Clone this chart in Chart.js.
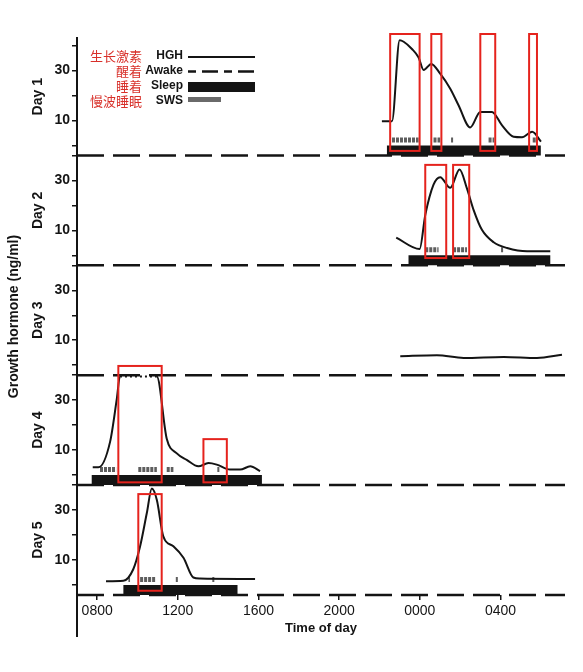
<!DOCTYPE html>
<html>
<head>
  <meta charset="UTF-8">
  <title>Growth hormone - time of day</title>
  <script src="https://cdn.jsdelivr.net/npm/chart.js"></script>
  <style>
    body { margin: 0; background: #fff; }
    #wrap { width: 583px; height: 672px; }
  </style>
</head>
<body>
  <div id="wrap"><canvas id="hghChart"></canvas></div>

  <script>
    // time = hours since midnight of the first day (24 = 0000 next day)
    const dayLabels = ['Day 1', 'Day 2', 'Day 3', 'Day 4', 'Day 5'];
    const timeTicks = [8, 12, 16, 20, 24, 28];
    const legendCn = ['生长激素', '醒着', '睡着', '慢波睡眠'];
    const legendEn = ['HGH', 'Awake', 'Sleep', 'SWS'];

    const day1Time = [22.12, 22.62, 23.00, 23.20, 23.61, 23.94, 24.19, 24.57, 25.01, 25.51, 25.92, 26.50, 27.00, 27.58, 28.07, 28.65, 29.07, 29.57, 30.01];
    const day1Hgh  = [9.7, 9.7, 42.1, 41.5, 38.6, 35.2, 30.2, 32.6, 28.7, 22.7, 16.1, 7.2, 13.4, 13.4, 8.1, 3.5, 3.3, 5.5, 1.5];
    const day2Time = [22.83, 23.99, 24.27, 24.68, 25.01, 25.51, 25.97, 26.34, 26.67, 27.08, 27.66, 28.33, 29.32, 30.47];
    const day2Hgh  = [7.1, 2.5, 16.1, 28.3, 31.3, 27.0, 34.4, 26.7, 18.1, 10.2, 5.2, 2.9, 1.6, 1.6];
    const day3Time = [23.03, 24.85, 26.17, 28.16, 29.81, 31.05];
    const day3Hgh  = [3.6, 4.0, 2.9, 3.3, 2.9, 4.2];
    const day4Time = [7.78, 8.06, 8.64, 8.97, 9.13, 10.96, 11.45, 11.95, 12.44, 13.02, 13.52, 13.93, 14.59, 15.09, 15.59, 16.08];
    const day4Hgh  = [3.1, 3.1, 13.3, 30.3, 39.5, 39.5, 14.6, 8.7, 6.1, 3.5, 4.8, 4.2, 2.2, 2.2, 3.5, 1.6];
    const day5Time = [8.44, 9.30, 9.79, 10.13, 10.46, 10.71, 10.96, 11.28, 11.78, 12.28, 12.77, 13.10, 15.83];
    const day5Hgh  = [1.5, 1.7, 6.3, 15.5, 28.7, 38.6, 34.0, 19.5, 15.5, 10.9, 3.0, 2.6, 2.4];

    // [start, end] in hours
    const sleepDay1 = [[22.37, 30.00]];
    const sleepDay2 = [[23.44, 30.47]];
    const sleepDay3 = [];
    const sleepDay4 = [[7.73, 16.17]];
    const sleepDay5 = [[9.30, 14.96]];

    const swsDay1 = [[22.62, 23.94], [24.68, 25.01], [25.55, 25.65], [27.41, 27.69], [29.60, 29.76]];
    const swsDay2 = [[24.27, 24.93], [25.65, 26.34], [28.03, 28.13]];
    const swsDay3 = [];
    const swsDay4 = [[8.14, 8.94], [10.04, 10.96], [11.45, 11.78], [13.96, 14.06]];
    const swsDay5 = [[9.55, 9.63], [10.13, 10.92], [11.90, 12.00], [13.71, 13.81]];

    // red highlight boxes: [start, end, top ng/ml, bottom ng/ml]
    const boxDay1 = [[22.53, 23.99, 44.6, -2.2], [24.57, 25.07, 44.6, -2.2], [27.00, 27.74, 44.6, -2.2], [29.42, 29.81, 44.6, -2.2]];
    const boxDay2 = [[24.27, 25.31, 36.2, -1.1], [25.65, 26.45, 36.2, -1.1]];
    const boxDay3 = [];
    const boxDay4 = [[9.05, 11.20, 43.7, -2.9], [13.27, 14.43, 14.4, -2.9]];
    const boxDay5 = [[10.04, 11.20, 36.4, -2.3]];

    const recordStart = 7, recordEnd = 31.2;
    const AWAKE_Y = -4, SLEEP_Y = -2, SWS_Y = 2.2;   // where the state bars sit in each panel
    const assayCeiling = 39.5;                       // day 4 values off the scale (dotted)

    const times = [day1Time, day2Time, day3Time, day4Time, day5Time];
    const hghs = [day1Hgh, day2Hgh, day3Hgh, day4Hgh, day5Hgh];
    const sleeps = [sleepDay1, sleepDay2, sleepDay3, sleepDay4, sleepDay5];
    const swss = [swsDay1, swsDay2, swsDay3, swsDay4, swsDay5];
    const boxes = [boxDay1, boxDay2, boxDay3, boxDay4, boxDay5];

    const INK = '#141414';
    const SANS = '"Liberation Sans", Arial, sans-serif';

    function spans(list, y) {
      const pts = [];
      list.forEach(([a, b]) => pts.push({x: a, y: y}, {x: b, y: y}, {x: b, y: null}));
      return pts;
    }

    const datasets = [];
    dayLabels.forEach((label, i) => {
      const axis = 'y' + (i + 1);
      datasets.push({
        label: 'Awake', yAxisID: axis, order: 4, clip: false,
        data: [{x: recordStart, y: AWAKE_Y}, {x: recordEnd, y: AWAKE_Y}],
        borderColor: INK, borderWidth: 2.5, borderDash: [27, 9], pointRadius: 0
      });
      datasets.push({
        label: 'Sleep', yAxisID: axis, order: 3, clip: false,
        data: spans(sleeps[i], SLEEP_Y), spanGaps: false,
        borderColor: INK, borderWidth: 10, borderCapStyle: 'butt', pointRadius: 0
      });
      datasets.push({
        label: 'SWS', yAxisID: axis, order: 2, clip: false,
        data: spans(swss[i], SWS_Y), spanGaps: false,
        borderColor: '#5e5e5e', borderWidth: 5, borderDash: [3, 1], borderCapStyle: 'butt', pointRadius: 0
      });
      const hgh = {
        label: 'HGH', yAxisID: axis, order: 1, clip: false,
        data: times[i].map((t, k) => ({x: t, y: hghs[i][k]})),
        borderColor: INK, borderWidth: 2, pointRadius: 0,
        cubicInterpolationMode: 'monotone'
      };
      if (i === 3) {
        hgh.segment = {
          borderDash: ctx => (ctx.p0.parsed.y >= assayCeiling && ctx.p1.parsed.y >= assayCeiling) ? [2, 3] : undefined
        };
      }
      datasets.push(hgh);
    });

    const scales = {
      x: {
        type: 'linear', position: 'bottom', min: recordStart, max: recordEnd,
        afterBuildTicks: axis => { axis.ticks = timeTicks.map(v => ({value: v})); },
        afterFit: axis => { axis.height = 45; },
        ticks: {
          callback: v => String((v % 24) * 100).padStart(4, '0'),
          font: {family: SANS, size: 14}, color: INK, padding: 3, maxRotation: 0, autoSkip: false
        },
        grid: {drawOnChartArea: false, tickLength: 5, color: INK, lineWidth: 1.5},
        border: {display: false},
        title: {display: true, text: 'Time of day', color: INK,
                font: {family: SANS, size: 13, weight: 'bold'}, padding: {top: 2, bottom: 4}}
      },
      yTitle: {
        type: 'linear', position: 'left', weight: 10,
        afterFit: axis => { axis.width = 27; },
        grid: {display: false}, ticks: {display: false}, border: {display: false},
        title: {display: true, text: 'Growth hormone (ng/ml)', color: INK,
                font: {family: SANS, size: 14, weight: 'bold'}, padding: {top: 6}}
      }
    };
    dayLabels.forEach((label, i) => {
      scales['y' + (i + 1)] = {
        type: 'linear', position: 'left', stack: 'days',
        stackWeight: i === 0 ? 117.5 : 110, weight: 5 - i,
        min: -4, max: i === 0 ? 43 : 40,
        afterBuildTicks: axis => { axis.ticks = [0, 10, 20, 30, 40].map(v => ({value: v})); },
        afterFit: axis => { axis.width = 50; },
        ticks: {
          callback: v => (v === 10 || v === 30) ? String(v) : '',
          autoSkip: false,
          font: {family: SANS, size: 14, weight: 'bold'}, color: INK, padding: 2
        },
        grid: {drawOnChartArea: false, tickLength: 5, color: INK, lineWidth: 1.5},
        border: {display: true, color: INK, width: 2},
        title: {display: true, text: label, color: INK,
                font: {family: SANS, size: 14, weight: 'bold'}, padding: {top: 3}}
      };
    });

    const overlay = {
      id: 'overlay',
      afterDraw(chart) {
        const ctx = chart.ctx;
        const xs = chart.scales.x;
        const L = chart.chartArea.left, T = chart.chartArea.top;
        ctx.save();

        // red highlight rectangles
        ctx.strokeStyle = '#e5231d';
        ctx.lineWidth = 2;
        boxes.forEach((list, i) => {
          const ys = chart.scales['y' + (i + 1)];
          list.forEach(([a, b, top, bottom]) => {
            const x1 = xs.getPixelForValue(a), x2 = xs.getPixelForValue(b);
            const y1 = ys.getPixelForValue(top), y2 = ys.getPixelForValue(bottom);
            ctx.strokeRect(x1, y1, x2 - x1, y2 - y1);
          });
        });

        // y axis line continues below the last panel
        ctx.strokeStyle = INK;
        ctx.lineWidth = 2;
        ctx.beginPath();
        ctx.moveTo(L, chart.chartArea.bottom);
        ctx.lineTo(L, chart.chartArea.bottom + 42);
        ctx.stroke();

        // legend inside Day 1
        ctx.textBaseline = 'middle';
        ctx.textAlign = 'right';
        const x0 = L + 111, x1 = L + 178;
        legendCn.forEach((cn, k) => {
          const y = T + 18 + k * 15;
          ctx.font = '13px "Noto Sans CJK SC"';
          ctx.fillStyle = '#d8302a';
          ctx.fillText(cn, L + 65, y);
          ctx.font = 'bold 12px ' + SANS;
          ctx.fillStyle = INK;
          ctx.fillText(legendEn[k], L + 106, y);
        });
        let y = T + 19;
        ctx.lineWidth = 2;
        ctx.beginPath(); ctx.moveTo(x0, y); ctx.lineTo(x1, y); ctx.stroke();
        y = T + 33.5;
        ctx.lineWidth = 2.5;
        ctx.setLineDash([8, 6, 16, 6]);
        ctx.beginPath(); ctx.moveTo(x0, y); ctx.lineTo(x1, y); ctx.stroke();
        ctx.setLineDash([]);
        ctx.fillStyle = INK;
        ctx.fillRect(x0, T + 44, x1 - x0, 10);
        ctx.fillStyle = '#6a6a6a';
        ctx.fillRect(x0, T + 59, 33, 5);
        ctx.restore();
      }
    };

    new Chart(document.getElementById('hghChart'), {
      type: 'line',
      data: {datasets: datasets},
      options: {
        responsive: true,
        maintainAspectRatio: false,
        animation: false,
        layout: {padding: {top: 38, right: 18, bottom: 32, left: 0}},
        plugins: {legend: {display: false}, tooltip: {enabled: false}},
        scales: scales
      },
      plugins: [overlay]
    });
  </script>
</body>
</html>
